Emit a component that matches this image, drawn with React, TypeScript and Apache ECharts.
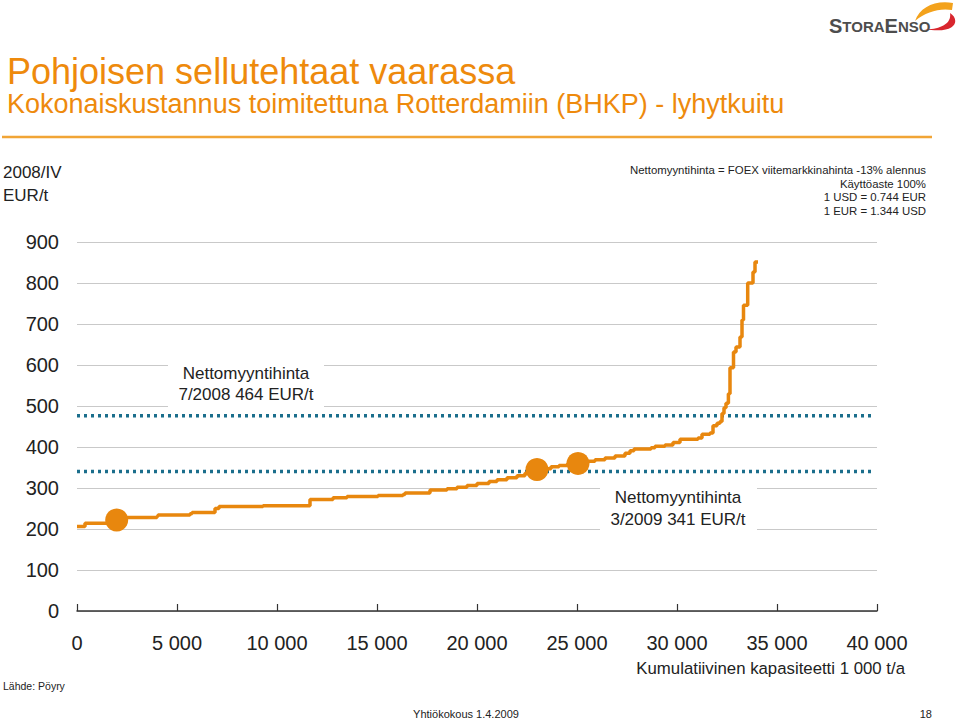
import React, { useEffect, useRef } from "react";
import * as echarts from "echarts";

// Cumulative capacity (1 000 t/a) where each cost step starts
const capacityStart = [0, 400, 1750, 4000, 4050, 5650, 5750, 6900, 7100, 9300, 11650, 12800, 13500, 15050, 16300, 16400, 17650, 18500, 19000, 19500, 20000, 20600, 21000, 21500, 22000, 22400, 22900, 23300, 23700, 24100, 24500, 25000, 25400, 25900, 26400, 26900, 27400, 27650, 27850, 28700, 28900, 29400, 29800, 30150, 31050, 31250, 31650, 31800, 32000, 32150, 32250, 32350, 32450, 32570, 32650, 32825, 32950, 33150, 33250, 33325, 33535, 33800, 33900, 34050];
// Delivered cost EUR/t for each step
const costEur = [206, 214, 228, 231, 234, 237, 240, 250, 255, 257, 272, 276, 279, 282, 284, 288, 295, 298, 302, 306, 311, 316, 320, 325, 330, 336, 341, 347, 352, 355, 358, 361, 365, 369, 373, 378, 385, 391, 395, 398, 402, 405, 411, 419, 422, 431, 434, 452, 458, 462, 482, 496, 507, 530, 593, 632, 644, 668, 710, 746, 800, 827, 851, 851];

// Highlighted mills (capacity, cost)
const millX = [1985, 23000, 25050];
const millY = [222, 345, 360];

// Net selling price reference lines (drawn level)
const priceLines = [476, 340];
const priceLineRange = [0, 39800];

const yTicks = { min: 0, max: 900, interval: 100 };
const xTicks = { min: 0, max: 40000, interval: 5000 };

const notes = [
  "Nettomyyntihinta = FOEX viitemarkkinahinta -13% alennus",
  "Käyttöaste 100%",
  "1 USD = 0.744 EUR",
  "1 EUR = 1.344 USD",
];

const FONT = "'Liberation Sans', Arial, Helvetica, sans-serif";
const ORANGE = "#E8870E";
const TITLE_ORANGE = "#EE8A0C";
const DOT = "#1B6E8C";
const TEXT = "#222222";

const fmt = (v: number) => {
  if (v === 0) return "0";
  const s = String(Math.round(v));
  return s.replace(/\B(?=(\d{3})+(?!\d))/g, " ");
};

let shapesRegistered = false;
function registerShapes() {
  if (shapesRegistered) return;
  shapesRegistered = true;
  echarts.graphic.registerShape(
    "swooshOrange",
    echarts.graphic.extendPath(
      "M0,20 C5,6 20,-1 38,2 L37,9 C24,7 11,11 0,20 Z",
      {}
    ) as any
  );
  echarts.graphic.registerShape(
    "swooshRed",
    echarts.graphic.extendPath(
      "M0,22 C15,23 28,17 26,6 C36,12 34,28 0,22 Z",
      {}
    ) as any
  );
}

export default function App() {
  const ref = useRef<HTMLDivElement>(null);

  useEffect(() => {
    document.body.style.margin = "0";
    registerShapes();
    const chart = echarts.init(ref.current!, null, { renderer: "svg" });

    const stepData = capacityStart.map((x, i) => [x, costEur[i]]);
    const millData = millX.map((x, i) => [x, millY[i]]);

    const txt = (
      text: string,
      x: number,
      y: number,
      size: number,
      opts: any = {}
    ) => ({
      type: "text",
      x,
      y,
      z: 20,
      style: {
        text,
        fill: opts.fill || TEXT,
        fontSize: size,
        fontFamily: FONT,
        fontWeight: opts.weight || "normal",
        align: opts.align || "left",
        verticalAlign: "middle",
      },
    });

    const graphic: any[] = [
      txt("Pohjoisen sellutehtaat vaarassa", 7, 71, 36, { fill: TITLE_ORANGE }),
      txt("Kokonaiskustannus toimitettuna Rotterdamiin (BHKP) - lyhytkuitu", 7, 104, 27, { fill: TITLE_ORANGE }),
      {
        type: "line",
        z: 20,
        shape: { x1: 2, y1: 137, x2: 932, y2: 137 },
        style: { stroke: "#F1A536", lineWidth: 2.5 },
      },
      txt("2008/IV", 3, 172, 17),
      txt("EUR/t", 3, 195, 17),
      ...notes.map((n, i) => txt(n, 926, 170 + i * 13.5, 11.4, { align: "right" })),
      {
        type: "rect",
        z: 5,
        shape: { x: 168, y: 358, width: 156, height: 51 },
        style: { fill: "#ffffff" },
      },
      txt("Nettomyyntihinta", 246, 373, 17, { align: "center" }),
      txt("7/2008 464 EUR/t", 246, 394, 17, { align: "center" }),
      {
        type: "rect",
        z: 5,
        shape: { x: 600, y: 483, width: 157, height: 51 },
        style: { fill: "#ffffff" },
      },
      txt("Nettomyyntihinta", 678, 497, 17, { align: "center" }),
      txt("3/2009 341 EUR/t", 678, 519, 17, { align: "center" }),
      txt("Kumulatiivinen kapasiteetti 1 000 t/a", 905, 668, 16.8, { align: "right" }),
      txt("Lähde: Pöyry", 3, 686, 10.5),
      txt("Yhtiökokous 1.4.2009", 466, 714, 11, { align: "center" }),
      txt("18", 932, 714, 11, { align: "right" }),
      {
        type: "swooshOrange",
        x: 915,
        y: 1,
        z: 20,
        style: { fill: "#F3A21C" },
      },
      {
        type: "swooshRed",
        x: 924,
        y: 7,
        z: 21,
        style: { fill: "#D8262E" },
      },
      {
        type: "text",
        x: 829,
        y: 26,
        z: 22,
        style: {
          text: "{a|S}{b|TORA}{a|E}{b|NSO}",
          fill: "#4d4d4d",
          fontFamily: FONT,
          fontWeight: "bold",
          verticalAlign: "middle",
          rich: {
            a: { fontSize: 20, fontWeight: "bold", fill: "#4d4d4d", fontFamily: FONT },
            b: { fontSize: 15, fontWeight: "bold", fill: "#4d4d4d", fontFamily: FONT },
          },
        },
      },
    ];

    chart.setOption({
      animation: false,
      backgroundColor: "#ffffff",
      textStyle: { fontFamily: FONT },
      grid: { left: 77, right: 82, top: 242, bottom: 110, containLabel: false },
      xAxis: {
        type: "value",
        min: xTicks.min,
        max: xTicks.max,
        interval: xTicks.interval,
        axisLine: { show: true, lineStyle: { color: "#333", width: 1.5 } },
        axisTick: { show: true, inside: true, length: 7, lineStyle: { color: "#333", width: 1.2 } },
        splitLine: { show: false },
        axisLabel: {
          fontSize: 20,
          color: TEXT,
          margin: 22,
          fontFamily: FONT,
          formatter: (v: number) => fmt(v),
        },
      },
      yAxis: {
        type: "value",
        min: yTicks.min,
        max: yTicks.max,
        interval: yTicks.interval,
        axisLine: { show: false },
        axisTick: { show: false },
        splitLine: { show: true, lineStyle: { color: "#C9C9C9", width: 1.2 } },
        axisLabel: { fontSize: 20, color: TEXT, margin: 18, fontFamily: FONT },
      },
      graphic,
      series: [
        ...priceLines.map((p) => ({
          type: "line",
          z: 9,
          silent: true,
          showSymbol: false,
          data: [
            [priceLineRange[0], p],
            [priceLineRange[1], p],
          ],
          lineStyle: { color: DOT, width: 3.5, type: [3, 4] },
        })),
        {
          type: "line",
          z: 10,
          step: "end",
          showSymbol: false,
          data: stepData,
          lineStyle: { color: ORANGE, width: 3.5 },
        },
        {
          type: "scatter",
          z: 11,
          symbolSize: 23,
          data: millData,
          itemStyle: { color: ORANGE, opacity: 1 },
        },
      ],
    });

    return () => chart.dispose();
  }, []);

  return <div ref={ref} style={{ width: 959, height: 721 }} />;
}
